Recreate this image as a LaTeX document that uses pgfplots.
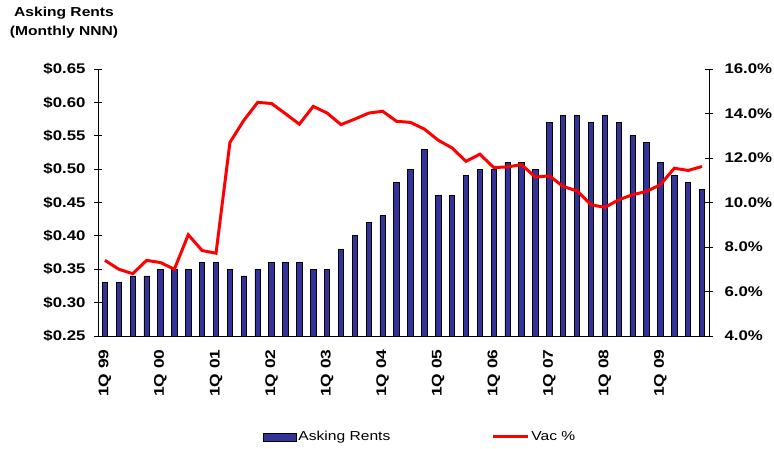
\documentclass[border=0pt]{standalone}
\usepackage{fontspec}
\setmainfont{Liberation Sans}[FakeStretch=1.2]
\newfontfamily\xlabfont{Liberation Sans}[FakeStretch=1.24]
\usepackage{pgfplots}
\pgfplotsset{compat=1.18}
\definecolor{barblue}{HTML}{333399}
\pgfplotstableread{
x rent vac
0 0.33 7.40
1 0.33 7.00
2 0.34 6.80
3 0.34 7.40
4 0.35 7.30
5 0.35 7.00
6 0.35 8.55
7 0.36 7.84
8 0.36 7.72
9 0.35 12.70
10 0.34 13.69
11 0.35 14.50
12 0.36 14.45
13 0.36 13.99
14 0.36 13.52
15 0.35 14.32
16 0.35 14.02
17 0.38 13.50
18 0.40 13.75
19 0.42 14.02
20 0.43 14.10
21 0.48 13.65
22 0.50 13.60
23 0.53 13.30
24 0.46 12.80
25 0.46 12.45
26 0.49 11.85
27 0.50 12.17
28 0.50 11.57
29 0.51 11.60
30 0.51 11.70
31 0.50 11.14
32 0.57 11.20
33 0.58 10.72
34 0.58 10.52
35 0.57 9.90
36 0.58 9.78
37 0.57 10.12
38 0.55 10.35
39 0.54 10.50
40 0.51 10.80
41 0.49 11.54
42 0.48 11.44
43 0.47 11.62
}\datatable
\begin{document}
\begin{tikzpicture}
\path[use as bounding box] (-98pt,-113pt) rectangle (676pt,336pt);
\pgfplotsset{
  common/.style={
    at={(0pt,0pt)}, anchor=south west,
    scale only axis, width=611pt, height=267pt,
    xmin=-0.5, xmax=43.5,
    tick align=center,
    /pgf/number format/assume math mode=true,
    tick label style={font=\fontsize{14}{16}\selectfont\bfseries},
    axis line style={black, line width=0.8pt},
    every tick/.style={black, line width=0.8pt},
    major tick length=8pt,
  }
}
\begin{axis}[common,
  axis x line*=bottom, axis y line*=left,
  ymin=0.25, ymax=0.65, ytick={0.25,0.30,...,0.66},
  yticklabel={\$\pgfmathprintnumber[fixed,fixed zerofill,precision=2]{\tick}},
  xtick={0,4,...,40},
  xticklabels={1Q 99,1Q 00,1Q 01,1Q 02,1Q 03,1Q 04,1Q 05,1Q 06,1Q 07,1Q 08,1Q 09},
  x tick label style={rotate=90, anchor=east, font=\fontsize{14}{16}\selectfont\xlabfont\bfseries, xshift=-6pt},
  x tick style={draw=none},
  minor xtick={-0.5,0.5,...,43.6},
  minor x tick style={black, line width=0.8pt},
  minor tick length=8pt,
  y tick label style={xshift=-5pt},
]
\addplot[ybar, bar width=5.4pt, fill=barblue, draw=black, line width=0.8pt] table[x=x, y=rent] {\datatable};
\end{axis}
\begin{axis}[common,
  axis y line*=right, axis x line=none,
  ymin=4, ymax=16, ytick={4,6,...,16},
  yticklabel={\pgfmathprintnumber[fixed,fixed zerofill,precision=1]{\tick}\%},
  y tick label style={xshift=8pt},
  legend columns=2,
  legend style={at={(0.527,-0.378)}, anchor=center, draw=none,
    font=\fontsize{13}{15}\selectfont,
    /tikz/every even column/.append style={column sep=99pt}},
]
\addlegendimage{legend image code/.code={\draw[fill=barblue, draw=black, line width=0.8pt] (0pt,-4pt) rectangle (33pt,4pt);}}
\addlegendentry{Asking Rents}
\addplot[red, line width=3pt, mark=none, legend image code/.code={\draw[red, line width=3pt] (0pt,0pt) -- (35pt,0pt);}] table[x=x, y=vac] {\datatable};
\addlegendentry{Vac \%}
\end{axis}
\node[align=center, font=\fontsize{13}{19}\selectfont\bfseries] at (-34pt,313pt) {Asking Rents\\(Monthly NNN)};
\end{tikzpicture}
\end{document}
